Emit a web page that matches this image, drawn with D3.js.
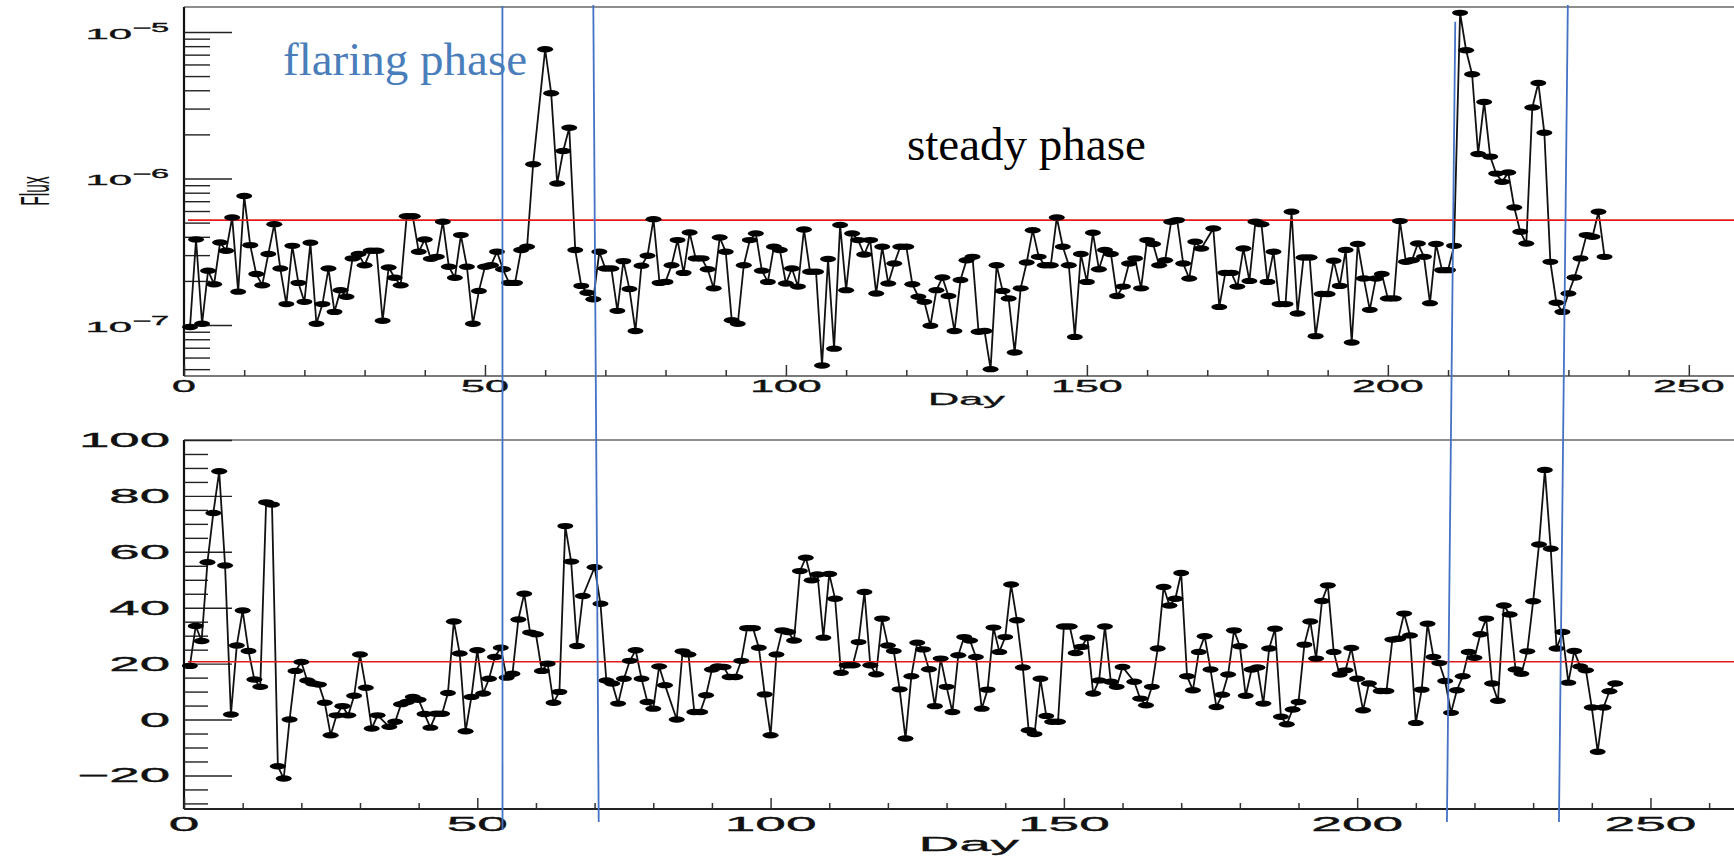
<!DOCTYPE html>
<html>
<head>
<meta charset="utf-8">
<script src="https://cdn.jsdelivr.net/npm/d3@7"></script>
<style>
  body { margin: 0; background: #fff; }
  svg text { font-family: "Liberation Sans", Arial, sans-serif; fill: #111; }
</style>
</head>
<body>
<div id="figure"></div>
<script>
// daily flux (top panel), first bin = day 1, null = no point that day
var fluxValues = [
  9.7e-8, 3.84e-7, 1.02e-7, 2.35e-7, 1.90e-7, 3.66e-7, 3.21e-7, 5.42e-7, 1.69e-7, 7.59e-7,
  3.51e-7, 2.23e-7, 1.87e-7, 3.05e-7, 4.88e-7, 2.43e-7, 1.39e-7, 3.47e-7, 1.94e-7, 1.44e-7,
  3.64e-7, 1.02e-7, 1.39e-7, 2.43e-7, 1.23e-7, 1.73e-7, 1.56e-7, 2.85e-7, 3.05e-7, 2.56e-7,
  3.21e-7, 3.21e-7, 1.07e-7, 2.47e-7, 2.10e-7, 1.87e-7, 5.53e-7, 5.53e-7, 3.16e-7, 3.84e-7,
  2.83e-7, 2.92e-7, 5.07e-7, 2.50e-7, 2.10e-7, 4.11e-7, 2.50e-7, 1.02e-7, 1.71e-7, 2.50e-7,
  2.56e-7, 3.16e-7, 2.40e-7, 1.94e-7, 1.94e-7, 3.25e-7, 3.42e-7, 1.25e-6, null, 7.62e-6,
  3.82e-6, 9.25e-7, 1.54e-6, 2.22e-6, 3.25e-7, 1.85e-7, 1.66e-7, 1.50e-7, 3.16e-7, 2.43e-7,
  2.43e-7, 1.25e-7, 2.73e-7, 1.76e-7, 9.1e-8, 2.54e-7, 2.97e-7, 5.28e-7, 1.94e-7, 1.97e-7,
  2.56e-7, 3.80e-7, 2.27e-7, 4.28e-7, 2.85e-7, 2.85e-7, 2.40e-7, 1.78e-7, 3.96e-7, 3.16e-7,
  1.08e-7, 1.02e-7, 2.56e-7, 3.80e-7, 4.22e-7, 2.35e-7, 1.97e-7, 3.42e-7, 3.25e-7, 1.92e-7,
  2.43e-7, 1.83e-7, 4.49e-7, 2.31e-7, 2.31e-7, 5.3e-8, 2.82e-7, 6.9e-8, 4.81e-7, 1.73e-7,
  4.22e-7, 3.80e-7, 3.03e-7, 3.80e-7, 1.64e-7, 3.42e-7, 1.92e-7, 2.63e-7, 3.42e-7, 3.42e-7,
  1.90e-7, 1.56e-7, 1.44e-7, 9.9e-8, 1.73e-7, 2.11e-7, 1.58e-7, 9.1e-8, 2.03e-7, 2.77e-7,
  2.92e-7, 9.0e-8, 9.1e-8, 5.0e-8, 2.56e-7, 1.71e-7, 1.52e-7, 6.5e-8, 1.78e-7, 2.67e-7,
  4.44e-7, 2.92e-7, 2.56e-7, 2.56e-7, 5.42e-7, 3.42e-7, 2.56e-7, 8.3e-8, 3.05e-7, 1.97e-7,
  4.26e-7, 2.40e-7, 3.25e-7, 3.05e-7, 1.58e-7, 1.83e-7, 2.63e-7, 2.85e-7, 1.78e-7, 3.80e-7,
  3.57e-7, 2.56e-7, 2.77e-7, 5.07e-7, 5.20e-7, 2.63e-7, 2.08e-7, 3.70e-7, 3.33e-7, null,
  4.56e-7, 1.33e-7, 2.27e-7, 2.27e-7, 1.83e-7, 3.33e-7, 2.00e-7, 5.07e-7, 4.88e-7, 1.97e-7,
  3.16e-7, 1.39e-7, 1.39e-7, 5.93e-7, 1.20e-7, 2.89e-7, 2.89e-7, 8.4e-8, 1.63e-7, 1.63e-7,
  2.75e-7, 1.85e-7, 3.25e-7, 7.6e-8, 3.57e-7, 2.08e-7, 1.27e-7, 2.08e-7, 2.23e-7, 1.52e-7,
  1.52e-7, 5.12e-7, 2.70e-7, 2.77e-7, 3.60e-7, 2.92e-7, 1.41e-7, 3.57e-7, 2.37e-7, 2.37e-7,
  3.47e-7, 1.35e-5, 7.50e-6, 5.14e-6, 1.47e-6, 3.33e-6, 1.41e-6, 1.08e-6, 9.49e-7, 1.10e-6,
  6.34e-7, 4.33e-7, 3.60e-7, 3.05e-6, 4.49e-6, 2.05e-6, 2.70e-7, 1.42e-7, 1.23e-7, 1.64e-7,
  2.11e-7, 2.85e-7, 4.11e-7, 4.00e-7, 5.93e-7, 2.92e-7
];
var fluxLevel = 5.2e-7;

// bottom panel, first bin = day 1, null = no point that day
var lowerValues = [
  19.2, 33.5, 28.1, 56.3, 73.9, 88.8, 55.1, 1.8, 26.5, 39,
  24.5, 14.3, 11.7, 77.7, 76.9, -16.7, -21.1, 0, 17.4, 20.6,
  14, 12.9, 12.5, 6, -5.6, 1.5, 4.8, 1.5, 8.5, 23.3,
  11.4, -3.2, 1.5, null, -2.6, -0.8, 5.5, 6.3, 8.1, 7.1,
  2, -2.9, 2.1, 2.1, 9.5, 35.1, 23.6, -4.2, 8.1, 24.8,
  9.3, 14.6, 22.4, 25.7, 15, 16.4, 35.8, 45, 31.1, 30.5,
  17.4, 20, 6, 9.9, 69.2, 56.5, 26.3, 44.2, null, 54.5,
  41.4, 14, 12.9, 5.7, 14.6, 21, 24.8, 14.6, 6.3, 3.9,
  19, 12.3, null, 0, 24.4, 23.3, 2.7, 2.7, 8.7, 17.9,
  19, 18.8, 15.2, 15.2, 21, 32.7, 32.7, 25.7, 9, -5.6,
  23.3, 31.9, 31.3, 28.3, 53.1, 57.9, 49.8, 51.9, 29.3, 52.1,
  43.2, 16.7, 19.4, 19.4, 27.7, 45.6, 19.4, 16.2, 36.1, 26.5,
  24.5, 10.8, -6.8, 15.5, 27.5, 25.1, 18, 4.8, 21.8, 11.7,
  2.7, 23, 29.5, 28.3, 22.4, 3.9, 10.7, 32.9, 24.2, 29.5,
  48.3, 35.5, 18.6, -3.8, -5.2, 14.6, 1.3, -0.8, -0.8, 33.3,
  33.3, 23.8, 26, 29.3, 9.3, 14, 33.3, 13.5, 11.7, 18.8,
  null, 13.5, 7.5, 5.1, 11.7, 25.4, 47.4, 40.8, 43.2, 52.4,
  15.5, 10.5, 24.2, 29.8, 17.9, 4.5, 8.9, 16.1, 31.9, 26.2,
  8.5, 17.9, 18.6, 5.7, 25.4, 32.5, 1, -1.7, 3.6, 6.3,
  26.8, 35.1, 21.8, 42.4, 48, 24.2, 16.1, 17.6, 25.6, 14.6,
  3.3, 12.9, null, 10.2, 10.2, 28.6, 28.9, 37.9, 30.1, -1.2,
  10.7, 34.3, 22.4, 20.2, 13.8, 2.4, 10.5, 15.5, 24.2, 22.1,
  30.5, 36.1, 12.9, 6.7, 40.8, 37.6, 17.9, 16.4, 24.4, 42.3,
  62.6, 89.3, 61.1, 25.4, 31.3, 13.2, 24.5, 19, 17.6, 4.3,
  -11.5, 4.3, 10.1, 12.9
];
var lowerLevel = 20.7;

var dayTicksMajor = [0, 50, 100, 150, 200, 250];
var dayTicksMinor = [10, 20, 30, 40, 60, 70, 80, 90, 110, 120, 130, 140, 160, 170, 180, 190, 210, 220, 230, 240, 260];
var fluxTicksMajor = [1e-7, 1e-6, 1e-5];
var fluxTickExp = ["\u22127", "\u22126", "\u22125"];
var fluxTicksMinor = [5e-8, 6e-8, 7e-8, 8e-8, 9e-8, 2e-7, 3e-7, 4e-7, 5e-7, 6e-7, 7e-7, 8e-7, 9e-7,
                      2e-6, 3e-6, 4e-6, 5e-6, 6e-6, 7e-6, 8e-6, 9e-6];
var lowerTicksMajor = [-20, 0, 20, 40, 60, 80, 100];
var lowerTicksMinor = [-30, -25, -15, -10, -5, 5, 10, 15, 25, 30, 35, 45, 50, 55, 65, 70, 75, 85, 90, 95];

// phase boundaries: day where each hand-drawn line meets the top of the upper
// panel and the bottom of the lower panel
var phaseTopDays = [52.9, 68.0, 211.2, 229.9];
var phaseBottomDays = [54.3, 70.7, 215.3, 234.4];

var W = 1734, H = 862;
var svg = d3.select("#figure").append("svg").attr("width", W).attr("height", H);

var xTop = d3.scaleLinear().domain([0, 260]).range([184, 1749]);
var yTop = d3.scaleLog().domain([4.49e-8, 1.48e-5]).range([376, 7]);
var xBot = d3.scaleLinear().domain([0, 267.6]).range([184, 1753.7]);
var yBot = d3.scaleLinear().domain([-32, 100]).range([809, 440]);

function toPoints(vals) {
  var pts = [];
  vals.forEach(function(v, i) { if (v !== null) pts.push({ day: i + 1, v: v }); });
  return pts;
}

function stretched(g, x, y, str, size, sx, anchor) {
  return g.append("text")
    .attr("transform", "translate(" + x + "," + y + ") scale(" + sx + ",1)")
    .attr("text-anchor", anchor)
    .style("font-size", size + "px")
    .text(str);
}

function ticks(g, axis, color, width) {
  g.call(axis);
  g.select(".domain").remove();
  g.selectAll(".tick line").attr("stroke", color).attr("stroke-width", width);
  g.selectAll(".tick text").remove();
}

function drawPanel(o) {
  var g = svg.append("g");
  // frame: top (grey), left and bottom axes
  g.append("line").attr("x1", o.x.range()[0]).attr("x2", W + 20)
    .attr("y1", o.y.range()[1]).attr("y2", o.y.range()[1])
    .attr("stroke", "#8e8e8e").attr("stroke-width", 2);
  g.append("line").attr("x1", o.x.range()[0]).attr("x2", W + 20)
    .attr("y1", o.y.range()[0]).attr("y2", o.y.range()[0])
    .attr("stroke", o.bottomColor).attr("stroke-width", 2);
  g.append("line").attr("x1", o.x.range()[0]).attr("x2", o.x.range()[0])
    .attr("y1", o.y.range()[0]).attr("y2", o.y.range()[1])
    .attr("stroke", "#111").attr("stroke-width", 2.2);

  var x0 = o.x.range()[0], yb = o.y.range()[0];
  ticks(g.append("g").attr("transform", "translate(0," + yb + ")"),
    d3.axisBottom(o.x).tickValues(dayTicksMinor).tickSize(-6).tickSizeOuter(0), "#333", 1.5);
  ticks(g.append("g").attr("transform", "translate(0," + yb + ")"),
    d3.axisBottom(o.x).tickValues(dayTicksMajor).tickSize(-11).tickSizeOuter(0), "#333", 1.5);
  ticks(g.append("g").attr("transform", "translate(" + x0 + ",0)"),
    d3.axisRight(o.y).tickValues(o.yMinor).tickSize(o.minorLen).tickSizeOuter(0), "#222", 1.4);
  ticks(g.append("g").attr("transform", "translate(" + x0 + ",0)"),
    d3.axisRight(o.y).tickValues(o.yMajor).tickSize(48).tickSizeOuter(0), "#222", 1.4);

  dayTicksMajor.forEach(function(d) {
    stretched(g, o.x(d), yb + o.xLabelDy, d, o.xLabelSize, o.xLabelSx, "middle")
      .style("stroke", "#111").style("stroke-width", 0.35);
  });
  var mid = (o.x.range()[0] + o.x.range()[1]) / 2;
  stretched(g, mid, o.titleY, "Day", o.titleSize, o.titleSx, "middle")
    .style("stroke", "#111").style("stroke-width", 0.3);

  var pts = toPoints(o.values);
  var line = d3.line().x(function(d) { return o.x(d.day); }).y(function(d) { return o.y(d.v); });
  g.append("path").datum(pts).attr("d", line)
    .attr("fill", "none").attr("stroke", "#111").attr("stroke-width", 1.8);
  g.append("line").attr("x1", x0 + 4).attr("x2", W + 20)
    .attr("y1", o.y(o.level)).attr("y2", o.y(o.level))
    .attr("stroke", "#e41a1a").attr("stroke-width", 1.6);
  g.selectAll("ellipse").data(pts).enter().append("ellipse")
    .attr("cx", function(d) { return o.x(d.day); })
    .attr("cy", function(d) { return o.y(d.v); })
    .attr("rx", 8).attr("ry", 3.2).attr("fill", "#000");
  return g;
}

var gTop = drawPanel({
  x: xTop, y: yTop, values: fluxValues, level: fluxLevel,
  yMajor: fluxTicksMajor, yMinor: fluxTicksMinor, minorLen: 26, bottomColor: "#7a7a7a",
  xLabelDy: 16, xLabelSize: 16.5, xLabelSx: 2.6,
  titleY: 405, titleSize: 16.3, titleSx: 2.65
});
fluxTicksMajor.forEach(function(v, i) {
  var t = gTop.append("text")
    .attr("transform", "translate(169," + (yTop(v) + 7) + ") scale(2.7,1)")
    .attr("text-anchor", "end").style("font-size", "15.5px")
    .style("stroke", "#111").style("stroke-width", 0.35);
  t.append("tspan").text("10");
  t.append("tspan").attr("dy", -7).style("font-size", "12px").text(fluxTickExp[i]);
});
gTop.append("text")
  .attr("transform", "translate(49,191) scale(2.6,1) rotate(-90)")
  .attr("text-anchor", "middle").style("font-size", "15.5px").text("Flux");

var gBot = drawPanel({
  x: xBot, y: yBot, values: lowerValues, level: lowerLevel,
  yMajor: lowerTicksMajor, yMinor: lowerTicksMinor, minorLen: 24, bottomColor: "#222",
  xLabelDy: 22, xLabelSize: 20, xLabelSx: 2.75,
  titleY: 850.5, titleSize: 19.5, titleSx: 2.9
});
lowerTicksMajor.forEach(function(v) {
  stretched(gBot, 170, yBot(v) + 7, v < 0 ? "\u2212" + Math.abs(v) : v, 19.5, 2.8, "end")
    .style("stroke", "#111").style("stroke-width", 0.35);
});

// hand-drawn phase markers and notes
var blue = "#4472c4";
var yStart = [6, 5, 21.7, 5], yEnd = [830, 822, 822, 822];
phaseTopDays.forEach(function(d, i) {
  svg.append("line")
    .attr("x1", xTop(d)).attr("y1", yStart[i])
    .attr("x2", xBot(phaseBottomDays[i])).attr("y2", yEnd[i])
    .attr("stroke", blue).attr("stroke-width", 1.8);
});
svg.append("text").attr("x", 283).attr("y", 75)
  .style("font-family", "'Liberation Serif', 'Times New Roman', serif")
  .style("font-size", "47px").style("fill", "#4a7ebb").text("flaring phase");
svg.append("text").attr("x", 907).attr("y", 160)
  .style("font-family", "'Liberation Serif', 'Times New Roman', serif")
  .style("font-size", "47px").style("fill", "#000").text("steady phase");
</script>
</body>
</html>
